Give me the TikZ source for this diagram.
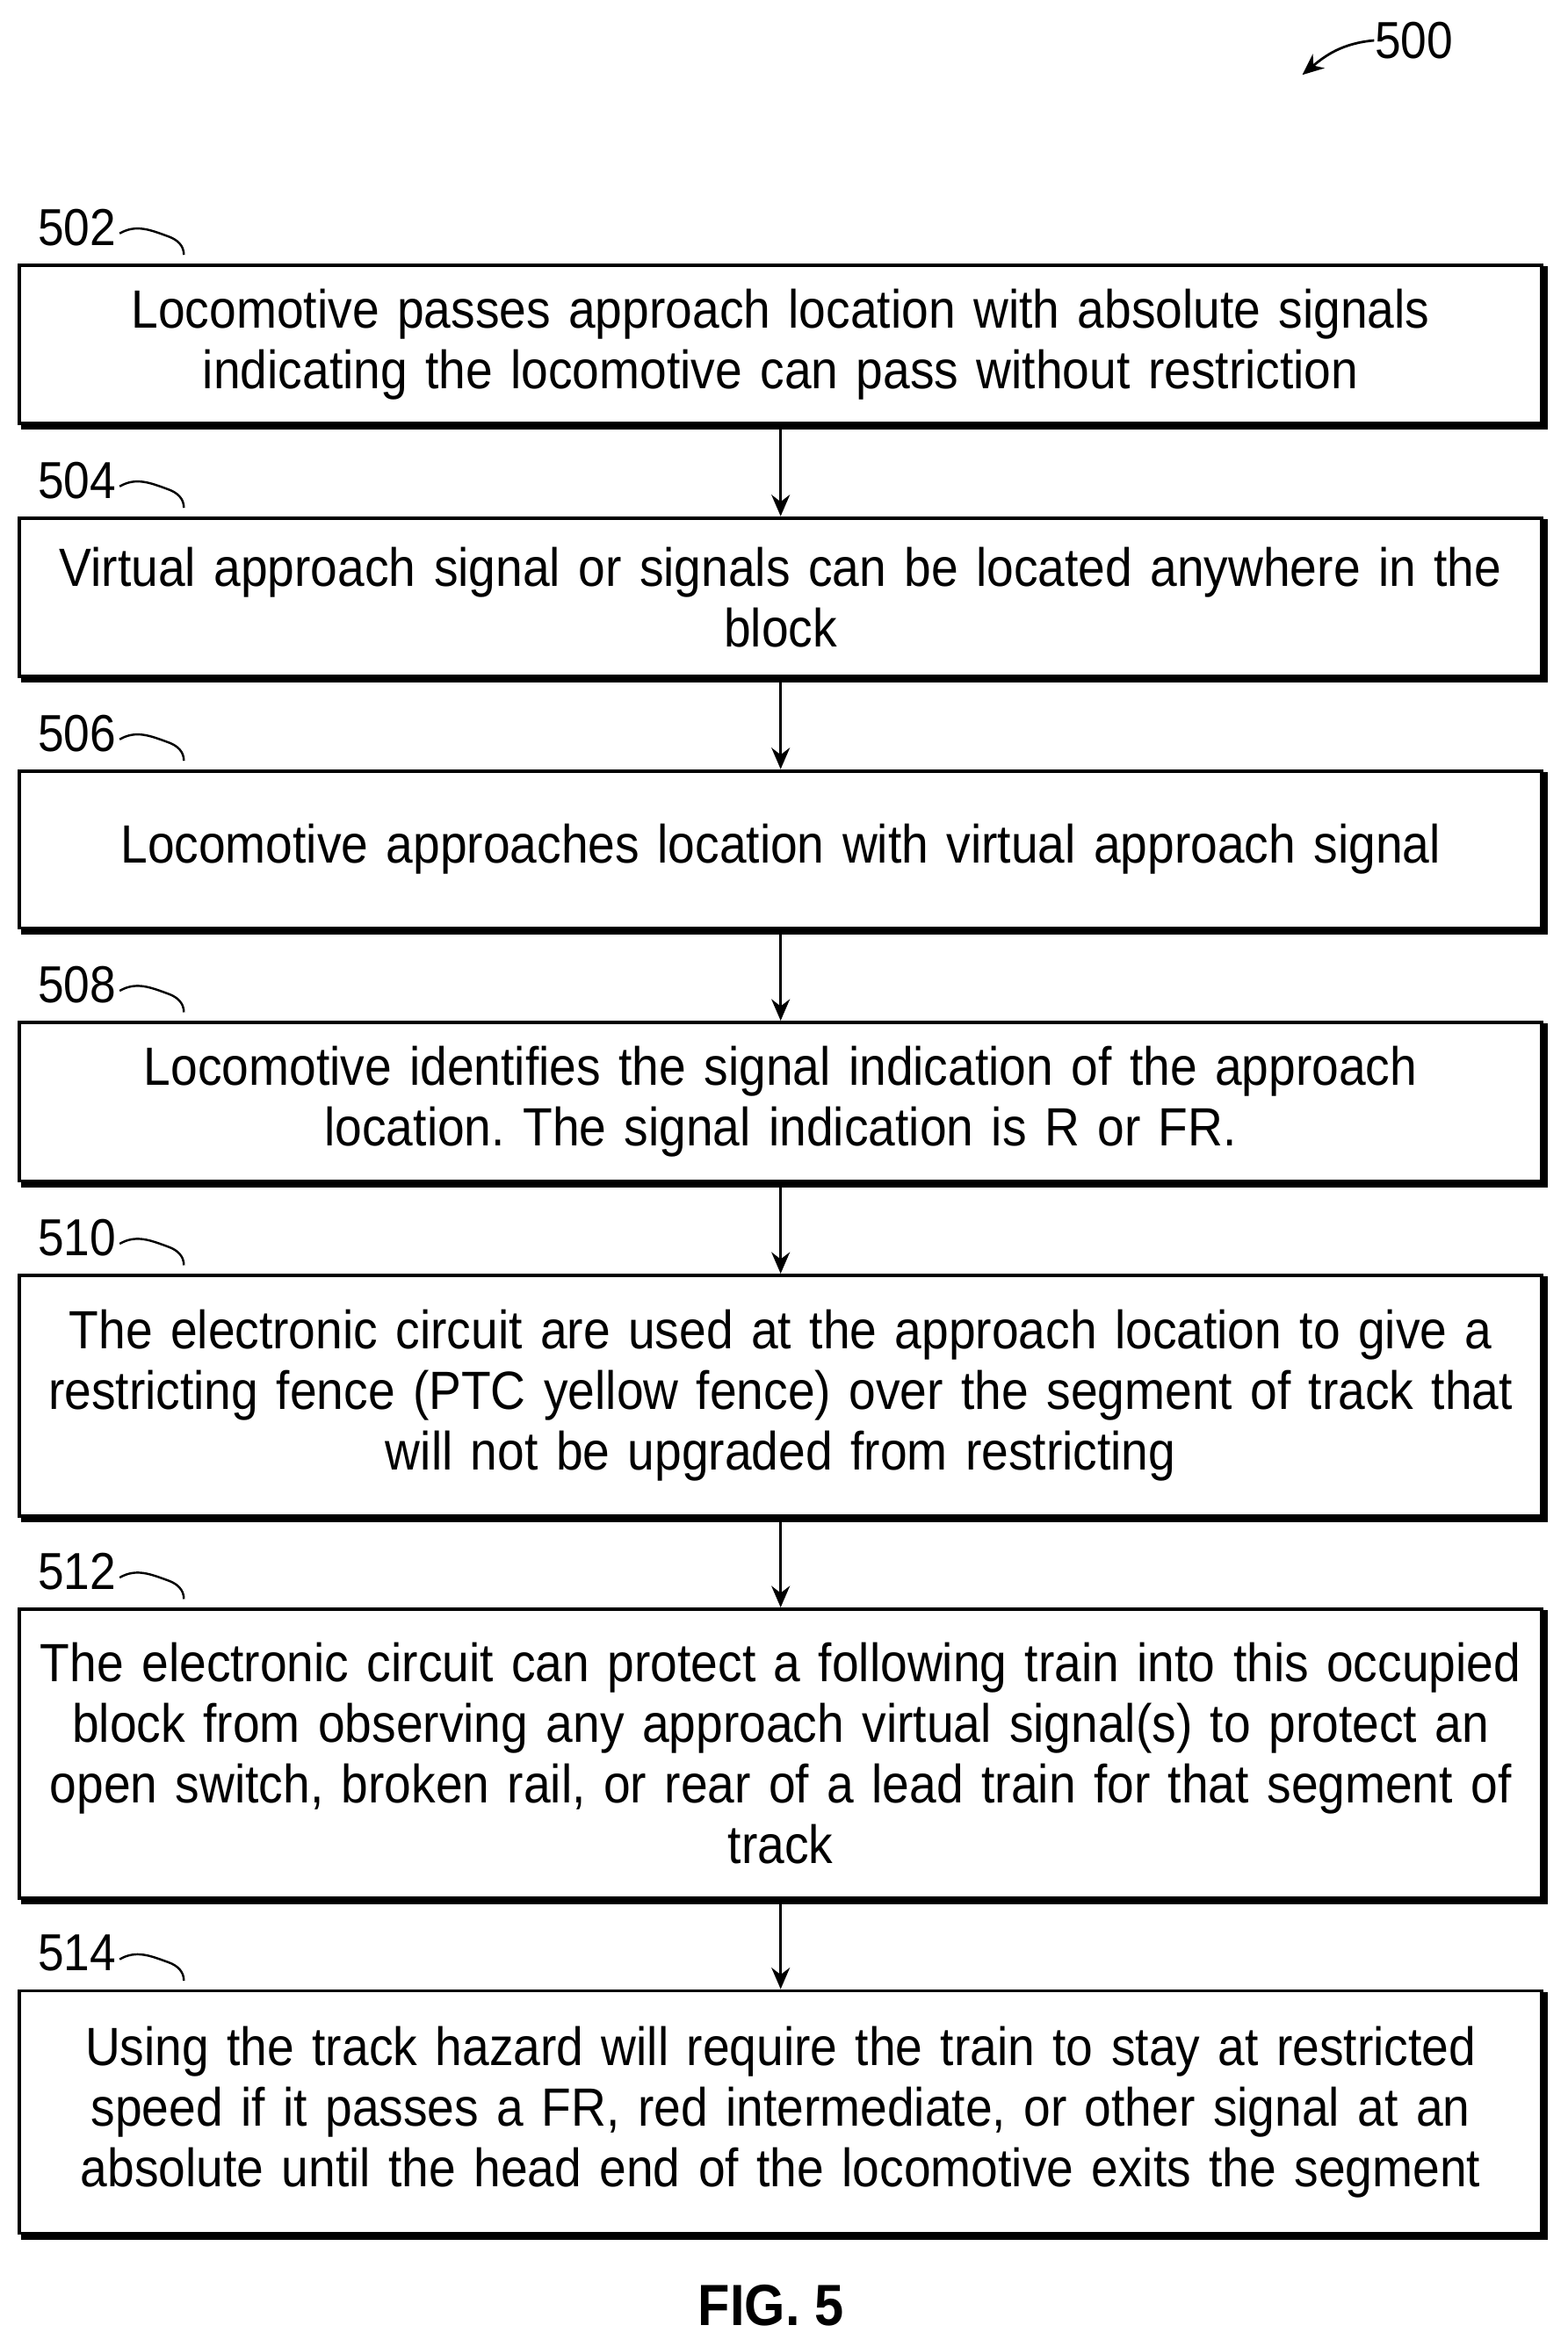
\documentclass[tikz,border=0pt]{standalone}
\usepackage{fontspec}
\setmainfont{Liberation Sans}[FakeStretch=0.9]
\usetikzlibrary{arrows.meta}
\frenchspacing
\tikzset{
	stepbox/.style={draw,line width=1.1pt,minimum width=1017*0.01719cm,text width=1010*0.01719cm,align=center,inner sep=0pt,font=\fontsize{17.6}{19.8}\selectfont},
	reflabel/.style={font=\fontsize{17}{19}\selectfont,anchor=west,inner sep=0pt},
	flow/.style={-{Stealth[length=7pt,width=6pt]},line width=0.9pt}
}
\begin{document}
\begin{tikzpicture}[x=0.01719cm,y=-0.01719cm]
		\useasboundingbox (0,0) rectangle (1047,1568);
		
		\node[font=\fontsize{17}{19}\selectfont,anchor=west,inner sep=0pt] (n500) at (918,27){500};
		\draw[-{Stealth[length=7pt,width=6pt]},line width=0.8pt] (n500.west) to[out=185,in=40] (870,50);
		
		% boxes
		\node[stepbox,minimum height=106*0.01719cm] (b502) at (521.5,230){Locomotive passes approach location with absolute signals\\indicating the locomotive can pass without restriction};
		\node[stepbox,minimum height=106*0.01719cm] (b504) at (521.5,399){Virtual approach signal or signals can be located anywhere in the\\block};
		\node[stepbox,minimum height=105*0.01719cm] (b506) at (521.5,567.5){Locomotive approaches location with virtual approach signal};
		\node[stepbox,minimum height=106*0.01719cm] (b508) at (521.5,736){Locomotive identifies the signal indication of the approach\\location. The signal indication is R or FR.};
		\node[stepbox,minimum height=161*0.01719cm] (b510) at (521.5,932.5){The electronic circuit are used at the approach location to give a\\restricting fence (PTC yellow fence) over the segment of track that\\will not be upgraded from restricting};
		\node[stepbox,minimum height=193*0.01719cm] (b512) at (521.5,1171.5){The electronic circuit can protect a following train into this occupied\\block from observing any approach virtual signal(s) to protect an\\open switch, broken rail, or rear of a lead train for that segment of\\track};
		\node[stepbox,minimum height=162*0.01719cm] (b514) at (521.5,1411){Using the track hazard will require the train to stay at restricted\\speed if it passes a FR, red intermediate, or other signal at an\\absolute until the head end of the locomotive exits the segment};
		
		% shadows, labels and hooks
		\foreach \b/\t in {b502/502,b504/504,b506/506,b508/508,b510/510,b512/512,b514/514}{
			\draw[line width=1.8pt] ([xshift=1pt,yshift=-0.6pt]\b.south west) -- ([xshift=0.6pt,yshift=-0.6pt]\b.south east) -- ([xshift=0.6pt,yshift=-1pt]\b.north east);
			\node[reflabel] (l\t) at ([xshift=13*0.01719cm,yshift=24*0.01719cm]\b.north west){\t};
			\draw[line width=0.7pt] ([xshift=1pt,yshift=-2pt]l\t.east) to[out=30,in=160] ++(16pt,-1pt) to[out=-20,in=90] ++(5pt,-6pt);
		}
		
		% connectors
		\draw[flow] (b502) -- (b504);
		\draw[flow] (b504) -- (b506);
		\draw[flow] (b506) -- (b508);
		\draw[flow] (b508) -- (b510);
		\draw[flow] (b510) -- (b512);
		\draw[flow] (b512) -- (b514);
		
		\node[font=\fontsize{19}{22}\selectfont\bfseries] (fig) at (515,1540){FIG. 5};
	\end{tikzpicture}
\end{document}
